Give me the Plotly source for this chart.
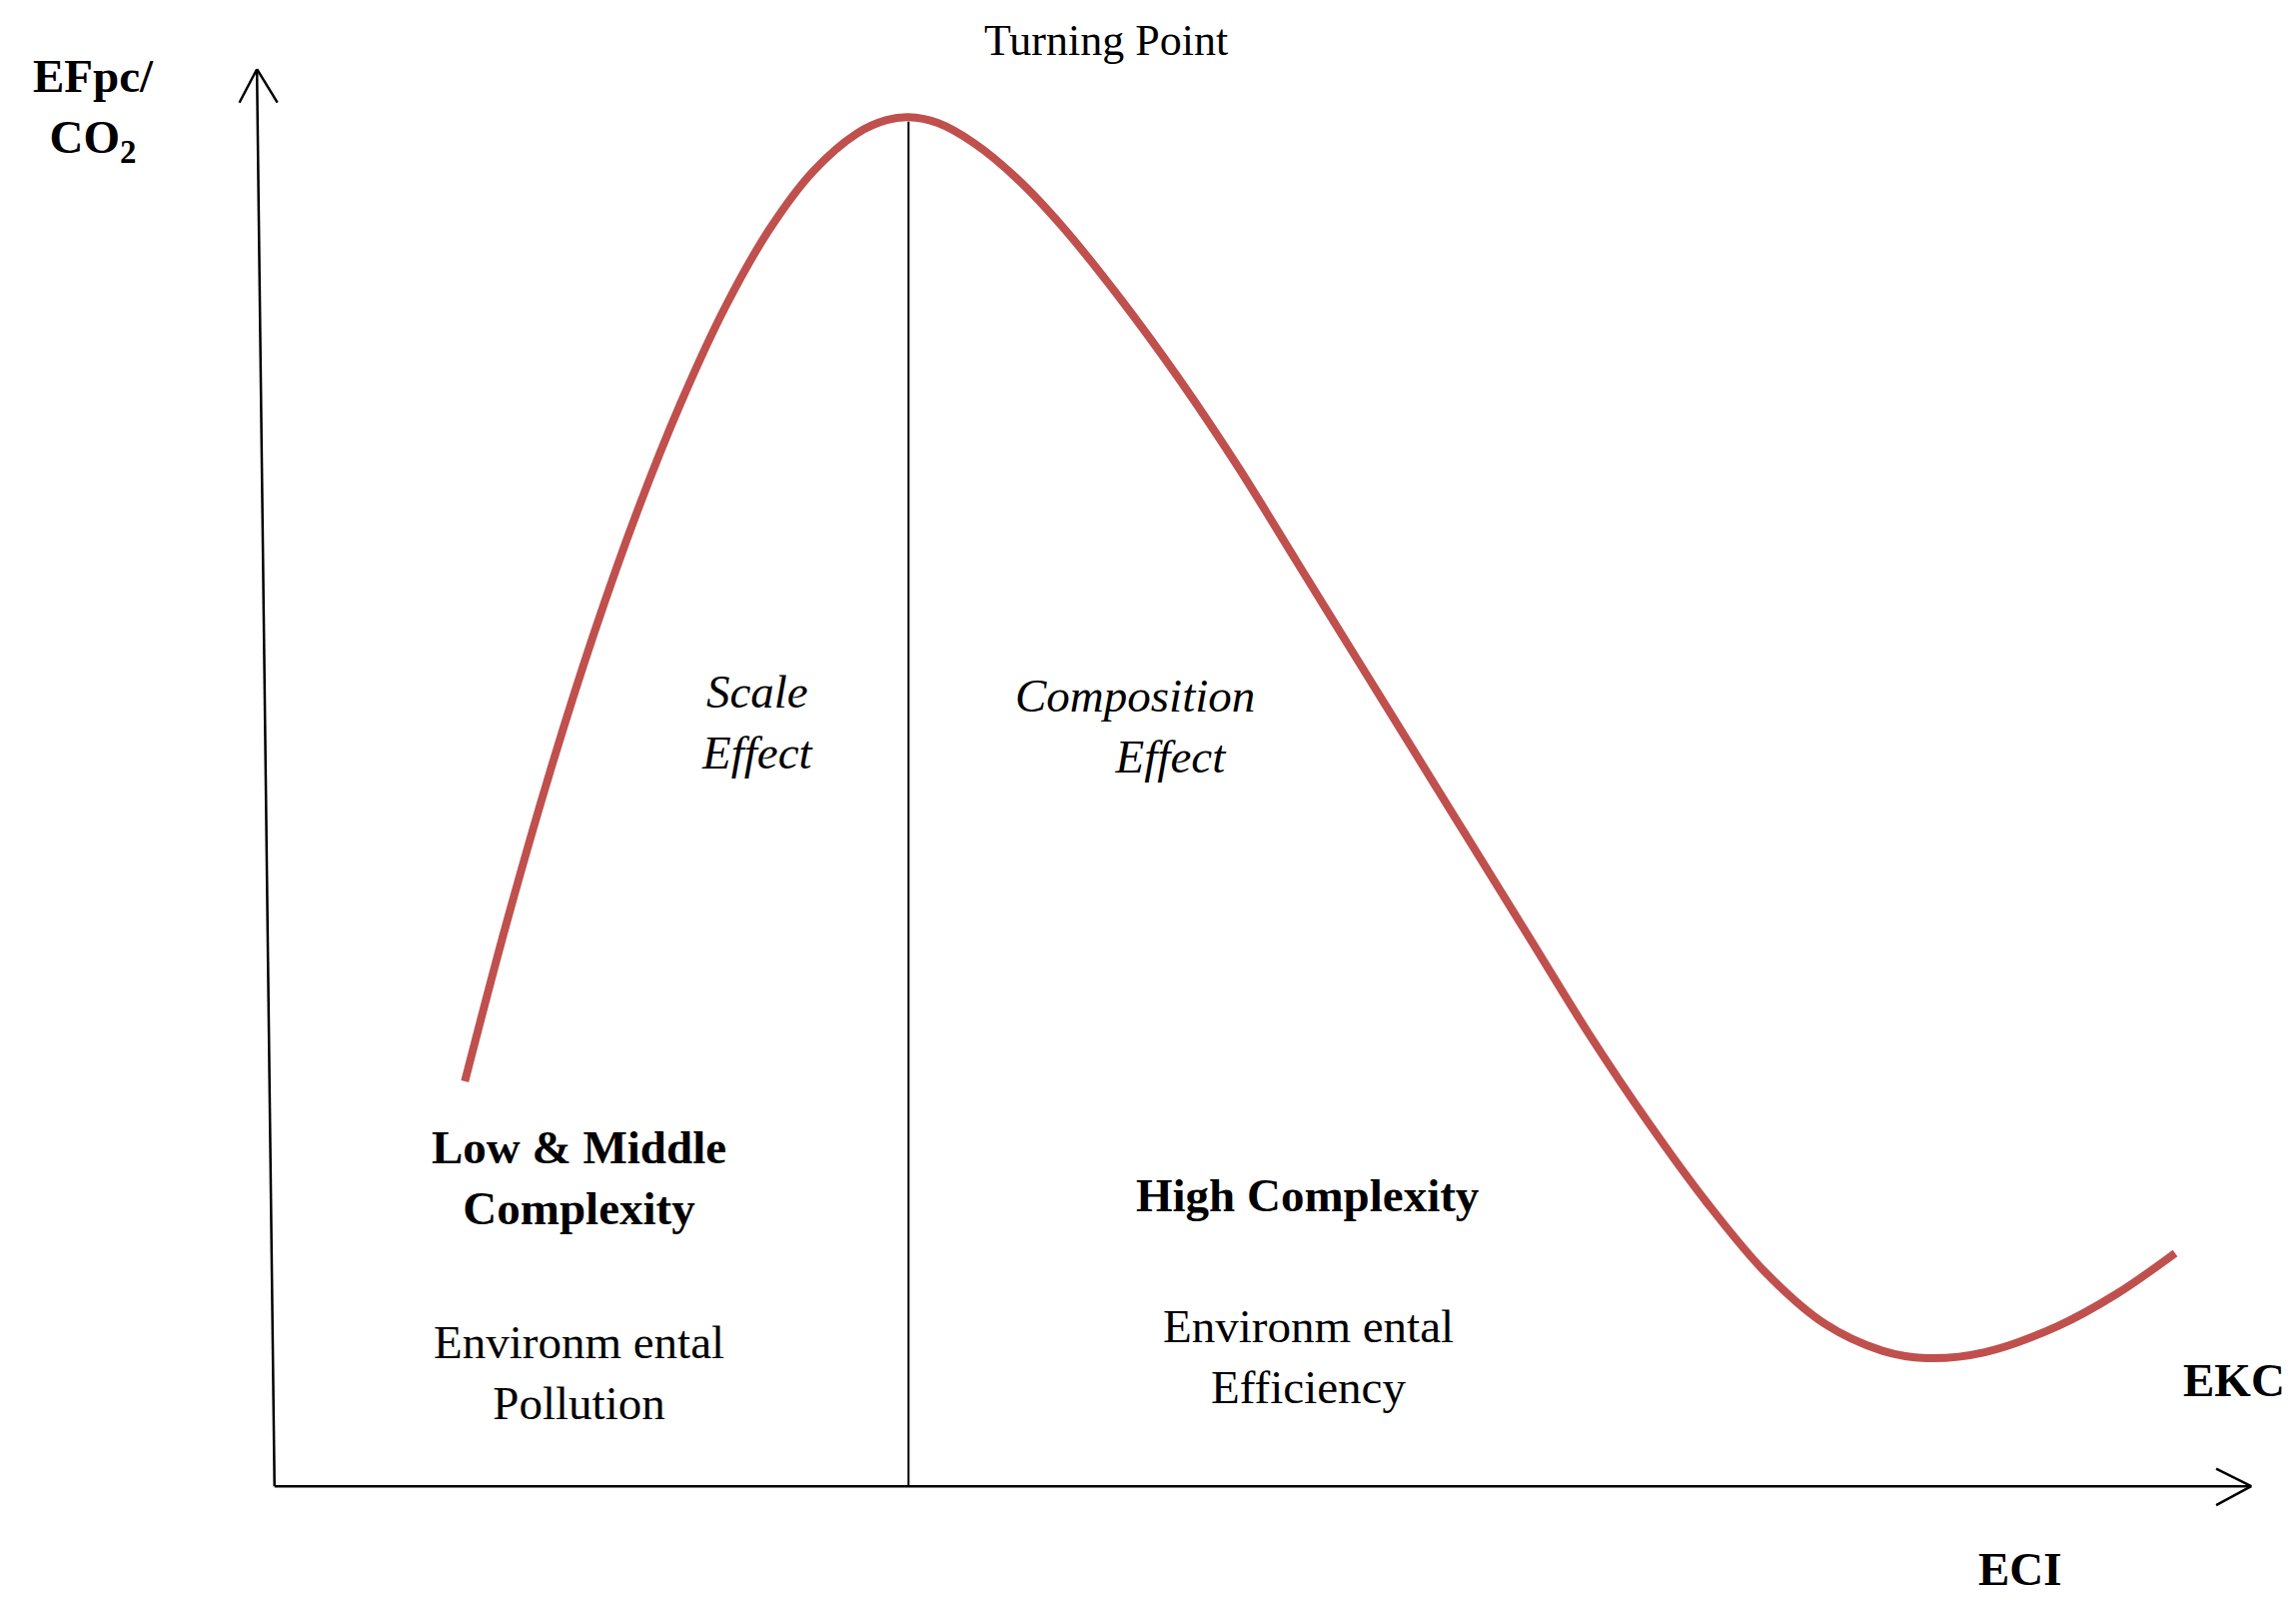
import plotly.graph_objects as go

# curve (image coordinates, y downwards)
curve_x = [312, 340, 370, 400, 430, 460, 490, 520, 550, 580, 600, 615, 635, 660, 690, 720, 760, 800, 840, 880, 920, 960, 1000, 1040, 1080, 1120, 1160, 1200, 1240, 1280, 1310, 1350, 1400, 1440, 1480]
curve_y = [737, 630, 525, 430, 345, 270, 205, 152, 112, 86, 77, 75, 79, 93, 118, 150, 200, 255, 315, 380, 445, 510, 575, 640, 705, 765, 820, 868, 903, 922, 927, 923, 905, 883, 855]

W, H = 1568, 1100
serif = "Liberation Serif"

fig = go.Figure()
fig.add_trace(go.Scatter(x=curve_x, y=curve_y, mode="lines",
                         line=dict(color="#c0504d", width=8, shape="spline", smoothing=1.0),
                         hoverinfo="skip"))

black = dict(color="black", width=2.5)
# axes
fig.add_shape(type="line", x0=182, y0=1015, x1=170, y1=42, line=black)
fig.add_shape(type="line", x0=182, y0=1015, x1=1532, y1=1015, line=black)
# open arrowheads
fig.add_shape(type="line", x0=170, y0=42, x1=158, y1=65, line=black)
fig.add_shape(type="line", x0=170, y0=42, x1=184, y1=65, line=black)
fig.add_shape(type="line", x0=1532, y0=1015, x1=1508, y1=1003, line=black)
fig.add_shape(type="line", x0=1532, y0=1015, x1=1508, y1=1028, line=black)
# turning point line
fig.add_shape(type="line", x0=615, y0=78, x1=615, y1=1015, line=dict(color="black", width=2))

def txt(x, y, s, size=47, bold=False, italic=False, align="center"):
    if bold:
        s = "<b>" + s.replace("<br>", "</b><br><b>") + "</b>"
    if italic:
        s = "<i>" + s.replace("<br>", "</i><br><i>") + "</i>"
    fig.add_annotation(x=x, y=y, text=s, showarrow=False, align=align,
                       font=dict(family=serif, size=size, color="black"))

txt(750, 22, "Turning Point", size=44)
txt(58, 70, "EFpc/<br>CO<sub>2</sub>", bold=True)
txt(512, 490, "Scale<br>Effect", italic=True)
txt(770, 493, "Composition<br>      Effect", italic=True)
txt(390, 803, "Low &amp; Middle<br>Complexity", bold=True)
txt(390, 937, "Environm ental<br>Pollution")
txt(888, 815, "High Complexity", bold=True)
txt(888, 926, "Environm ental<br>Efficiency")
txt(1520, 942, "EKC", bold=True)
txt(1374, 1072, "ECI", bold=True)

fig.update_layout(
    width=2298, height=1603, margin=dict(l=0, r=0, t=0, b=0),
    plot_bgcolor="white", paper_bgcolor="white", showlegend=False,
    xaxis=dict(range=[0, W], visible=False),
    yaxis=dict(range=[H, 0], visible=False),
)
fig.write_html("out.html")
